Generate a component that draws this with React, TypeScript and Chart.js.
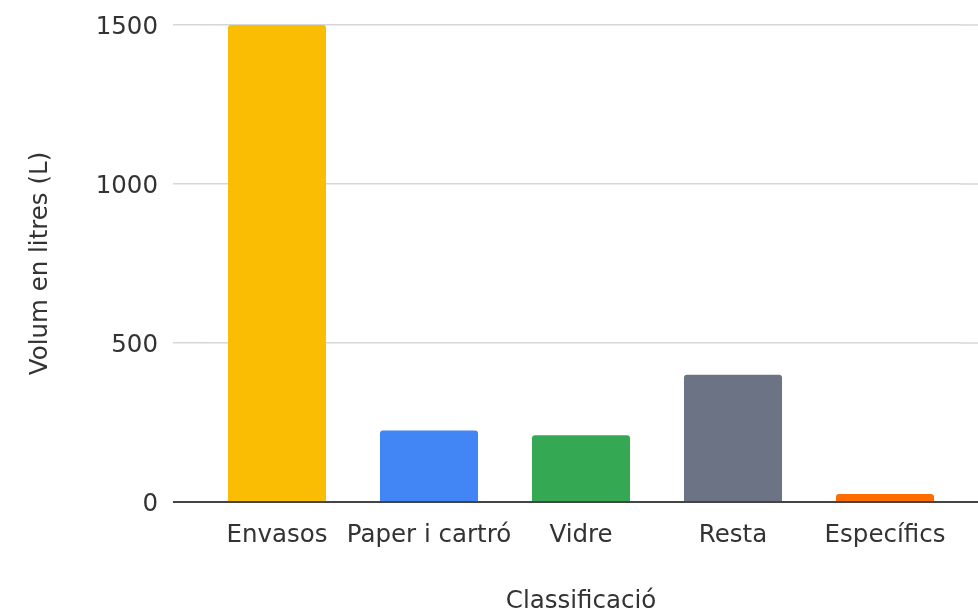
import React, { useEffect, useRef } from "react";
import { Chart, registerables } from "chart.js";

Chart.register(...registerables);

const categories = ["Envasos", "Paper i cartró", "Vidre", "Resta", "Específics"];
const volums = [1500, 225, 210, 400, 25];
const barColors = ["#FBBC04", "#4285F4", "#34A853", "#6B7385", "#FF6D01"];
const yTicks = [0, 500, 1000, 1500];
const xTitle = "Classificació";
const yTitle = "Volum en litres (L)";

const FONT = "'DejaVu Sans', Verdana, sans-serif";
const TEXT = "#333333";
const GRID = "#d6d6d6";
const BASE = "#444444";

const extendGrid = {
  id: "extendGrid",
  beforeDatasetsDraw(chart: any) {
    const { ctx, chartArea, scales } = chart;
    const y = scales.y;
    ctx.save();
    y.ticks.forEach((t: any) => {
      const py = y.getPixelForValue(t.value);
      ctx.beginPath();
      ctx.lineWidth = t.value === 0 ? 2 : 1.5;
      ctx.strokeStyle = t.value === 0 ? BASE : GRID;
      ctx.moveTo(chartArea.right, py);
      ctx.lineTo(chart.width, py);
      ctx.stroke();
    });
    ctx.restore();
  },
};

export default function App() {
  const ref = useRef<HTMLCanvasElement | null>(null);
  useEffect(() => {
    if (!ref.current) return;
    const chart = new Chart(ref.current, {
      type: "bar",
      data: {
        labels: categories,
        datasets: [
          {
            data: volums,
            backgroundColor: barColors,
            borderRadius: 3,
            borderSkipped: "start",
            categoryPercentage: 1,
            barPercentage: 0.645,
          },
        ],
      },
      plugins: [extendGrid],
      options: {
        animation: false,
        responsive: true,
        maintainAspectRatio: false,
        layout: { padding: { top: 25, right: 17, left: 0, bottom: 0 } },
        plugins: {
          legend: { display: false },
          tooltip: { enabled: false },
        },
        scales: {
          x: {
            grid: { display: false, drawTicks: false },
            border: { display: false },
            ticks: {
              color: TEXT,
              padding: 19,
              maxRotation: 0,
              autoSkip: false,
              font: { family: FONT, size: 24.5 },
            },
            title: {
              display: true,
              text: xTitle,
              color: TEXT,
              padding: { top: 39, bottom: 0 },
              font: { family: FONT, size: 24.5 },
            },
            afterFit(scale: any) {
              scale.height = 114;
              scale.paddingLeft = 0;
              scale.paddingRight = 0;
            },
          },
          y: {
            min: 0,
            max: 1500,
            afterBuildTicks(scale: any) {
              scale.ticks = yTicks.map((v) => ({ value: v }));
            },
            grid: {
              color: (c: any) => (c.tick && c.tick.value === 0 ? BASE : GRID),
              lineWidth: (c: any) => (c.tick && c.tick.value === 0 ? 2 : 1.5),
              drawTicks: true,
              tickLength: 28,
            },
            border: { display: false },
            ticks: {
              color: TEXT,
              padding: 15,
              labelOffset: 3,
              font: { family: FONT, size: 24.5 },
              callback: (v: any) => String(v),
            },
            title: {
              display: true,
              text: yTitle,
              color: TEXT,
              padding: { top: 26, bottom: 0 },
              font: { family: FONT, size: 24.5 },
            },
            afterFit(scale: any) {
              scale.width = 201;
              scale.paddingTop = 0;
              scale.paddingBottom = 0;
            },
          },
        },
      },
    });
    return () => chart.destroy();
  }, []);
  return (
    <div style={{ position: "fixed", left: 0, top: 0, width: 978, height: 616, background: "#fff" }}>
      <canvas ref={ref} />
    </div>
  );
}
